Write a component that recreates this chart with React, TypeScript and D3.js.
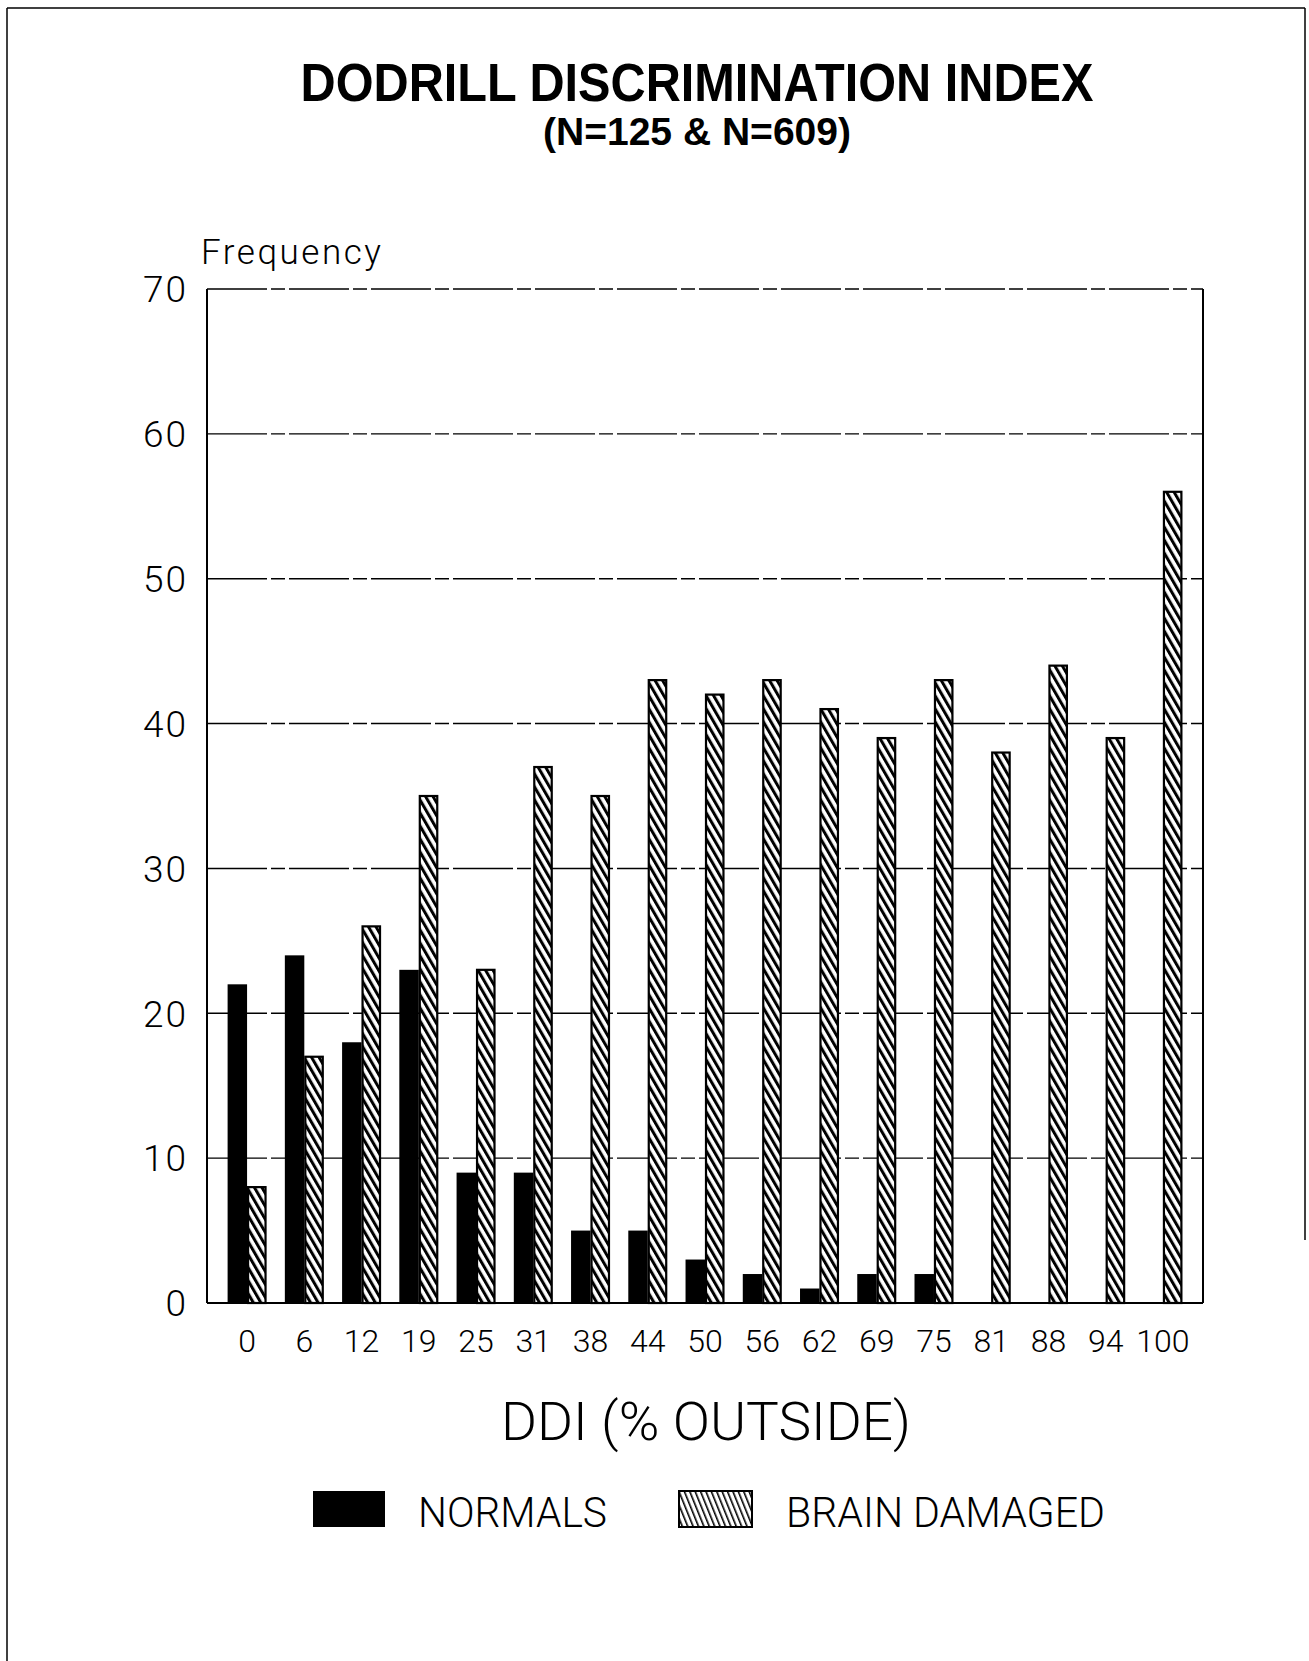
import React from "react";
import * as d3 from "d3";

const categories = ["0", "6", "12", "19", "25", "31", "38", "44", "50", "56", "62", "69", "75", "81", "88", "94", "100"];
const normals = [22, 24, 18, 23, 9, 9, 5, 5, 3, 2, 1, 2, 2, 0, 0, 0, 0];
const brainDamaged = [8, 17, 26, 35, 23, 37, 35, 43, 42, 43, 41, 39, 43, 38, 44, 39, 56];
const yTicks = [0, 10, 20, 30, 40, 50, 60, 70];
const seriesNames = ["NORMALS", "BRAIN DAMAGED"];

const W = 1309;
const H = 1661;
const left = 207;
const right = 1203;
const top = 289;
const bottom = 1303;

const thin = "Roboto, 'DejaVu Sans', sans-serif";

export default function App() {
  const y = d3.scaleLinear().domain([0, 70]).range([bottom, top]);
  const x = d3.scaleBand<string>().domain(categories).range([left, right]).paddingInner(0.32).paddingOuter(0.36);
  const sub = d3.scaleBand<number>().domain([0, 1]).range([0, x.bandwidth()]).padding(0);

  return (
    <svg width={W} height={H} style={{ position: "absolute", left: 0, top: 0, display: "block", background: "#fff" }}>
      <defs>
        <pattern id="hatch" width="6.5" height="6.5" patternUnits="userSpaceOnUse" patternTransform="rotate(-30)">
          <rect width="6.5" height="6.5" fill="#fff" />
          <rect x="0" y="0" width="3" height="6.5" fill="#000" />
        </pattern>
        <pattern id="hatchL" width="5" height="5" patternUnits="userSpaceOnUse" patternTransform="rotate(-22)">
          <rect width="5" height="5" fill="#fff" />
          <rect x="0" y="0" width="1.6" height="5" fill="#000" />
        </pattern>
      </defs>

      {/* page frame */}
      <line x1={7} y1={8} x2={1305} y2={8} stroke="#000" strokeWidth={1.5} />
      <line x1={7} y1={8} x2={7} y2={H} stroke="#000" strokeWidth={1.5} />
      <line x1={1305} y1={8} x2={1305} y2={1240} stroke="#000" strokeWidth={1.5} />

      {/* titles */}
      <text x={697} y={101} textAnchor="middle" fontFamily="'Liberation Sans', Arial, sans-serif" fontWeight="bold" fontSize={54}
        textLength={793} lengthAdjust="spacingAndGlyphs">DODRILL DISCRIMINATION INDEX</text>
      <text x={697} y={145} textAnchor="middle" fontFamily="'Liberation Sans', Arial, sans-serif" fontWeight="bold" fontSize={38}
        textLength={308} lengthAdjust="spacingAndGlyphs">(N=125 &amp; N=609)</text>

      <text x={201} y={264} fontFamily={thin} fontWeight={300} fontSize={35} textLength={180} lengthAdjust="spacing">Frequency</text>

      {/* gridlines */}
      {yTicks.filter(t => t > 0).map(t => (
        <line key={t} x1={left} x2={right} y1={y(t)} y2={y(t)} stroke="#000" strokeWidth={1.4}
          strokeDasharray="60 4 14 4" />
      ))}
      {/* axes */}
      <line x1={left} x2={left} y1={top} y2={bottom} stroke="#000" strokeWidth={2} />
      <line x1={right} x2={right} y1={top} y2={bottom} stroke="#000" strokeWidth={2} />
      <line x1={left} x2={right} y1={bottom} y2={bottom} stroke="#000" strokeWidth={2} />

      {/* y tick labels */}
      {yTicks.map(t => (
        <text key={t} x={188} y={y(t)} dy="0.36em" textAnchor="end" fontFamily={thin} fontWeight={300} fontSize={37} letterSpacing={2}>{t}</text>
      ))}

      {/* bars */}
      {categories.map((c, i) => (
        <g key={c} transform={`translate(${x(c)},0)`}>
          {normals[i] > 0 && (
            <rect x={sub(0)} width={sub.bandwidth()} y={y(normals[i])} height={y(0) - y(normals[i])} fill="#000" />
          )}
          {brainDamaged[i] > 0 && (
            <rect x={(sub(1) as number) + 1} width={sub.bandwidth() - 2} y={y(brainDamaged[i])} height={y(0) - y(brainDamaged[i])}
              fill="url(#hatch)" stroke="#000" strokeWidth={2.2} />
          )}
        </g>
      ))}

      {/* x tick labels */}
      {categories.map(c => (
        <text key={c} x={(x(c) as number) + x.bandwidth() / 2} y={1352} textAnchor="middle" fontFamily={thin} fontWeight={300} fontSize={32}>{c}</text>
      ))}

      <text x={706} y={1440} textAnchor="middle" fontFamily={thin} fontWeight={300} fontSize={54}
        textLength={410} lengthAdjust="spacingAndGlyphs">DDI (% OUTSIDE)</text>

      {/* legend */}
      <rect x={313} y={1491} width={72} height={36} fill="#000" />
      <text x={418} y={1527} fontFamily={thin} fontWeight={300} fontSize={43} textLength={189} lengthAdjust="spacingAndGlyphs">{seriesNames[0]}</text>
      <rect x={679} y={1491} width={73} height={36} fill="url(#hatchL)" stroke="#000" strokeWidth={2} />
      <text x={786} y={1527} fontFamily={thin} fontWeight={300} fontSize={43} textLength={319} lengthAdjust="spacingAndGlyphs">{seriesNames[1]}</text>
    </svg>
  );
}
